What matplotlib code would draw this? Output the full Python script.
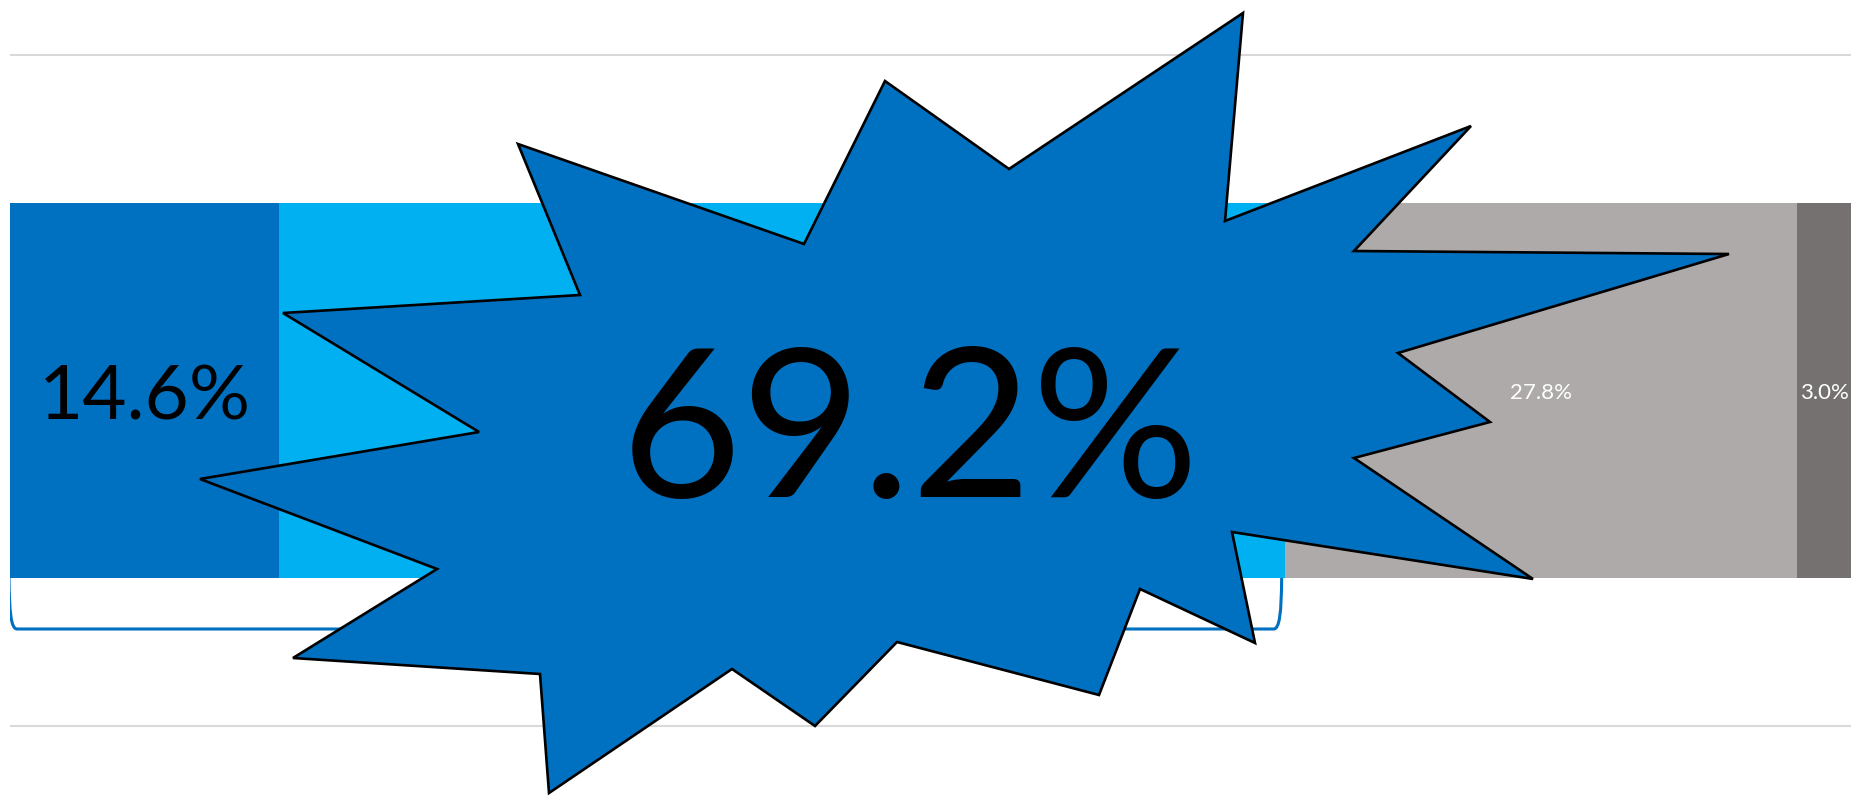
import numpy as np
import matplotlib.pyplot as plt
from matplotlib.path import Path
from matplotlib.patches import PathPatch, Polygon

plt.rcParams['font.family'] = ['Lato', 'DejaVu Sans']

# share of each segment (%)
segments = ['Segment A', 'Segment B', 'Segment C', 'Segment D']
shares = [14.6, 54.6, 27.8, 3.0]
colors = ['#0070C0', '#00B0F0', '#AEAAAA', '#767171']
label_colors = ['black', None, 'white', 'white']
label_sizes = [55, None, 16, 16]

W, H = 1851, 796
fig = plt.figure(figsize=(W / 100, H / 100), dpi=100)

# main bar axes: x in percent, y in pixels from the top
px_per_pct = 18.42
ax = fig.add_axes([10 / W, 0, (W - 10) / W, 1])
ax.set_xlim(0, (W - 10) / px_per_pct)
ax.set_ylim(H, 0)
ax.axis('off')

bar_y, bar_h = 390.5, 375
left = 0.0
for name, val, col in zip(segments, shares, colors):
    ax.barh(bar_y, val, left=left, height=bar_h, color=col, edgecolor='none', zorder=2)
    left += val

# light horizontal rules above and below the bar
for gy in (54.5, 726):
    ax.axhline(gy, color='#D9D9D9', lw=1.5, zorder=1)

# value labels
starts = np.cumsum([0] + shares[:-1])
for s, val, lc, fs in zip(starts, shares, label_colors, label_sizes):
    if lc is None:
        continue
    ax.text(s + val / 2, 420 if fs > 20 else 399, f'{val:.1f}%', ha='center', va='baseline',
            color=lc, fontsize=fs, zorder=3)

# bracket under the first two segments
combined = shares[0] + shares[1]
p = 1 / px_per_pct
x0, x1 = -1 * p, combined - 3 * p
y_top, y_bot = 578, 629
verts = [(x0, y_top),
         (x0 + 0.3 * p, 612), (x0 + 2 * p, y_bot), (x0 + 8 * p, y_bot),
         (x1 - 8 * p, y_bot),
         (x1 - 2 * p, y_bot), (x1 - 0.3 * p, 612), (x1, y_top)]
codes = [Path.MOVETO,
         Path.CURVE4, Path.CURVE4, Path.CURVE4,
         Path.LINETO,
         Path.CURVE4, Path.CURVE4, Path.CURVE4]
ax.add_patch(PathPatch(Path(verts, codes), fill=False, edgecolor='#0070C0', lw=2.2,
                       capstyle='butt', joinstyle='round', zorder=2))

# starburst callout drawn in figure pixel space
ov = fig.add_axes([0, 0, 1, 1])
ov.set_xlim(0, W)
ov.set_ylim(H, 0)
ov.axis('off')
ov.patch.set_alpha(0)

burst = [(1243, 13), (1225, 221), (1471, 126), (1354, 251), (1729, 254),
         (1398, 353), (1490, 422), (1354, 458), (1533, 579), (1232, 532),
         (1255, 643), (1140, 589), (1099, 695), (897, 642), (815, 726),
         (732, 669), (549, 793), (540, 674), (293, 658), (437, 569),
         (200, 479), (479, 432), (283, 313), (580, 295), (518, 144),
         (804, 244), (885, 81), (1009, 169)]
ov.add_patch(Polygon(burst, closed=True, facecolor='#0070C0', edgecolor='black',
                     lw=1.9, joinstyle='miter', zorder=5))
ov.text(910, 497, f'{combined:.1f}%', ha='center', va='baseline', fontsize=150,
        color='black', zorder=6)

fig.savefig('out.png', dpi=100)
